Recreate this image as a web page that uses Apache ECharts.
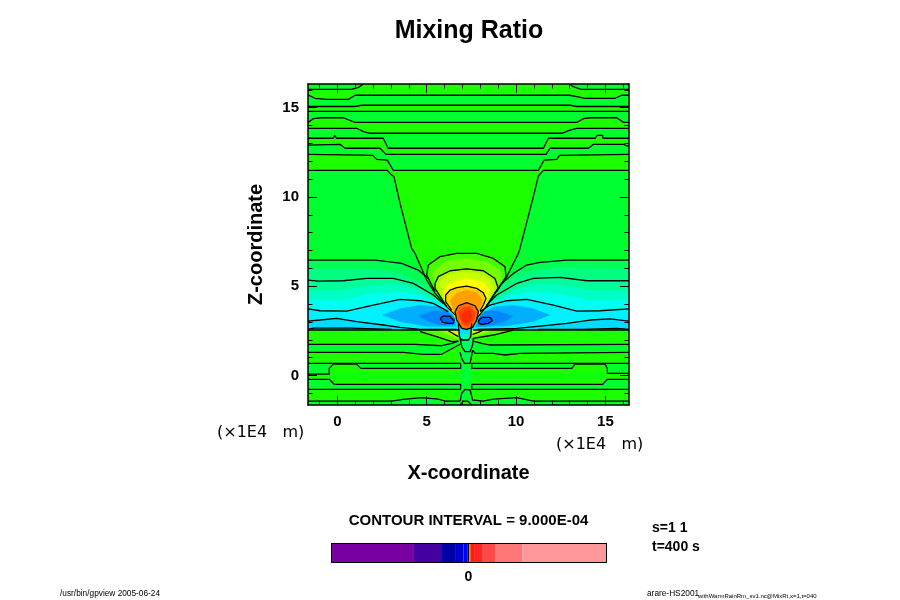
<!DOCTYPE html>
<html>
<head>
<meta charset="utf-8">
<title>Mixing Ratio</title>
<script src="https://cdn.jsdelivr.net/npm/echarts@6/dist/echarts.min.js"></script>
<style>
html, body { margin: 0; padding: 0; background: #fff; }
#mixing_chart { width: 900px; height: 600px; }
</style>
</head>
<body>
<div id="mixing_chart"></div>
<script>
// tick labels and ticks
var major_ticks = [0, 5, 10, 15];
var minor_x_ticks = [-1, 1, 2, 3, 4, 6, 7, 8, 9, 11, 12, 13, 14, 16];
var minor_z_ticks = [-1, 1, 2, 3, 4, 6, 7, 8, 9, 11, 12, 13, 14, 16];

// contour lines, upper part, [x, z] in 1E4 m
var c1_left = [[-1.64,16.03],[0.80,16.03],[1.18,16.14],[1.46,16.33]];
var c1_right = [[12.99,16.33],[13.21,16.18],[13.64,16.03],[16.32,16.03]];
var c2 = [[-1.64,15.72],[-1.25,15.53],[-0.60,15.47],[0.62,15.47],[0.99,15.70],[12.99,15.70],[13.40,15.62],[13.86,15.53],[15.54,15.53],[15.91,15.70],[16.32,15.70]];
var c3 = [[-1.64,15.07],[0.99,15.07],[1.36,15.14],[13.02,15.14],[13.40,15.07],[16.32,15.07]];
var c4 = [[-1.64,14.80],[16.32,14.80]];
var c5 = [[-1.64,14.17],[-1.34,14.39],[-0.88,14.44],[0.34,14.44],[0.99,14.18],[13.40,14.18],[13.77,14.39],[14.14,14.44],[15.63,14.44],[16.01,14.18],[16.32,14.18]];
var c6 = [[-1.64,13.85],[1.08,13.85],[1.46,13.66],[1.83,13.57],[12.56,13.57],[13.02,13.75],[13.40,13.85],[16.32,13.85]];
var c7 = [[-1.64,13.29],[-0.22,13.29],[-0.15,13.45],[-0.04,13.29],[2.57,13.29],[2.85,12.73],[11.53,12.73],[11.81,13.29],[14.42,13.29],[14.55,13.45],[14.85,13.45],[14.85,13.29],[16.32,13.29]];
var c8 = [[-1.64,12.91],[0.15,12.95],[0.43,12.73],[2.39,12.73],[2.72,12.39],[11.68,12.39],[11.90,12.73],[14.05,12.73],[14.33,12.95],[16.01,12.95],[16.32,12.82]];
var c9 = [[-1.64,12.39],[1.36,12.35],[1.98,12.33],[2.20,12.11],[2.80,12.07],[3.13,11.49],[11.25,11.49],[11.57,12.07],[12.28,12.11],[12.43,12.33],[16.32,12.39]];
var c10_left = [[-1.64,11.49],[2.80,11.49],[2.95,11.32],[3.17,11.14],[3.51,9.64],[4.16,7.12],[4.35,6.84],[5.00,5.35],[5.47,4.60],[6.12,3.86],[6.59,3.39]];
var c10_right = [[7.80,3.20],[8.26,3.76],[8.92,4.79],[9.48,5.54],[10.13,6.84],[10.22,7.12],[10.97,10.02],[11.25,11.18],[11.53,11.49],[16.32,11.49]];

// contours of the wings on both sides of the plume
var l1_left = [[-1.64,6.47],[2.11,6.47],[3.60,6.28],[4.53,5.91],[5.09,5.44]];
var l1_right = [[9.20,5.16],[9.85,5.72],[10.60,6.19],[11.34,6.34],[12.84,6.47],[16.32,6.47]];
var l2_left = [[-1.64,5.35],[-1.06,5.29],[0.34,5.31],[1.64,5.44],[3.13,5.44],[4.25,5.16],[5.37,4.51],[5.93,4.04]];
var l2_right = [[8.36,3.95],[8.92,4.51],[10.04,5.16],[10.97,5.44],[12.46,5.50],[13.96,5.31],[16.32,5.31]];
var l3_left = [[-1.64,3.73],[-0.97,3.63],[0.52,3.61],[2.01,3.95],[3.51,4.27],[4.63,4.19],[5.37,4.04],[6.21,3.58]];
var l3_right = [[7.99,3.58],[8.54,3.95],[9.48,4.19],[10.60,4.27],[12.09,3.95],[13.40,3.61],[14.70,3.63],[16.32,3.73]];
var l4_left = [[-1.64,3.05],[-0.97,3.11],[-0.04,3.20],[1.08,3.02],[2.57,2.83],[3.51,2.70],[4.63,2.59],[6.68,2.59]];
var l4_right = [[7.80,2.59],[10.04,2.64],[11.34,2.77],[12.84,2.92],[14.14,3.11],[15.26,3.17],[16.32,3.05]];
var thick_left = [[-1.64,2.55],[6.83,2.55]];
var thick_right = [[7.61,2.55],[16.32,2.55]];
var thin_left = [[-1.64,2.59],[-1.34,2.66],[0.71,2.66],[0.80,2.59],[3.04,2.59]];
var thin_right = [[11.25,2.59],[13.68,2.59],[13.77,2.64],[15.63,2.64],[16.32,2.59]];

// tone edges inside the wings
var w2_left = [[-1.64,6.00],[0.15,6.00],[2.11,5.95],[3.51,5.72],[4.63,5.26],[5.56,4.42]];
var w2_right = [[9.10,4.98],[10.04,5.63],[10.97,5.91],[12.46,6.04],[16.32,6.00]];
var w4_left = [[-1.64,4.79],[0.34,4.79],[2.01,5.07],[3.51,5.13],[4.63,4.79],[5.75,4.14]];
var w4_right = [[8.64,4.14],[9.85,4.79],[10.97,5.13],[12.46,5.07],[14.14,4.79],[16.32,4.79]];
var w5_left = [[-1.64,4.27],[0.15,4.23],[2.01,4.60],[3.51,4.70],[4.63,4.51],[5.93,3.95]];
var w5_right = [[8.45,3.95],[9.66,4.51],[10.78,4.70],[12.28,4.60],[14.14,4.23],[16.32,4.27]];
var lens_outer_left = [[2.48,3.39],[3.51,3.76],[4.63,3.95],[5.75,3.86],[6.49,3.39],[6.68,2.74],[5.00,2.74],[3.51,3.02]];
var lens_outer_right = [[11.90,3.39],[10.97,3.76],[9.85,3.95],[8.73,3.86],[7.99,3.39],[7.71,2.70],[9.48,2.77],[10.97,3.02]];
var lens_inner_left = [[4.53,3.33],[5.37,3.63],[6.12,3.63],[6.59,3.20],[6.49,2.83],[5.75,2.83],[5.09,3.02]];
var lens_inner_right = [[9.85,3.33],[8.92,3.63],[8.26,3.63],[7.89,3.20],[7.89,2.77],[8.73,2.83],[9.38,3.02]];
var loop_left = [[5.75,3.20],[5.90,3.33],[6.31,3.33],[6.53,3.07],[6.49,2.92],[6.21,2.92],[5.90,2.98],[5.75,3.20]];
var loop_right = [[7.89,3.07],[8.08,3.26],[8.54,3.26],[8.68,3.07],[8.45,2.92],[8.08,2.87],[7.93,2.92],[7.89,3.07]];

// plume
var plume_tail = [[8.26,3.76],[7.89,3.30],[7.24,2.74],[6.59,3.30],[6.12,3.86]];
var p1_line = [[5.47,4.70],[5.00,5.63],[5.09,6.19],[5.75,6.66],[6.68,6.84],[7.80,6.84],[8.73,6.56],[9.38,6.10],[9.44,5.54],[8.92,4.70]];
var tone_b = [[5.28,5.63],[5.47,6.00],[6.12,6.43],[7.24,6.56],[8.36,6.38],[9.10,5.91],[9.20,5.44],[8.82,4.70]];
var p2_line = [[6.12,3.86],[5.47,4.88],[5.47,5.16],[5.65,5.54],[6.31,5.87],[7.24,5.97],[8.17,5.87],[8.82,5.44],[9.01,4.88],[8.26,3.76]];
var tone_d = [[5.71,5.16],[6.03,5.57],[6.68,5.76],[7.24,5.78],[7.99,5.72],[8.54,5.35],[8.77,4.88]];
var tone_e = [[5.93,4.60],[6.21,5.16],[7.24,5.44],[8.17,5.26],[8.51,4.79]];
var p3_line = [[6.40,3.67],[6.06,4.14],[6.06,4.51],[6.31,4.79],[6.68,4.92],[7.24,5.01],[7.80,4.88],[8.17,4.64],[8.32,4.32],[8.17,3.95],[7.99,3.63]];
var tone_g = [[6.31,4.23],[6.68,4.64],[7.24,4.79],[7.80,4.66],[8.13,4.23],[7.89,3.39],[7.24,2.74],[6.59,3.39]];
var p4_line = [[6.59,3.58],[6.77,3.91],[7.24,4.08],[7.71,3.91],[7.89,3.58],[7.80,3.11],[7.57,2.70],[7.24,2.59],[6.96,2.64],[6.68,3.11],[6.59,3.58]];
var core_outer = [[6.77,3.58],[7.05,3.86],[7.43,3.86],[7.71,3.58],[7.65,3.11],[7.33,2.77],[7.05,2.83],[6.83,3.20]];
var core_inner = [[6.92,3.39],[7.15,3.63],[7.43,3.63],[7.56,3.39],[7.43,3.02],[7.24,2.87],[7.05,3.02]];
var stem_line = [[6.77,2.92],[6.83,2.18],[6.96,1.99],[7.33,1.99],[7.46,2.18],[7.52,2.92]];
var stem_low = [[6.90,2.30],[7.43,2.30],[7.33,1.99],[6.96,1.99]];

// below the thick line
var l6_left = [[4.63,2.46],[5.56,2.18],[6.40,1.90],[6.77,1.93]];
var l6_right = [[7.61,2.08],[8.73,2.27],[9.85,2.55]];
var l6b_left = [[6.21,2.51],[6.77,2.18]];
var l6b_right = [[7.57,2.30],[7.89,2.42],[8.17,2.55]];
var l7_left = [[-1.64,1.75],[4.35,1.75],[4.44,1.67],[5.84,1.67],[6.40,1.80],[6.77,1.93]];
var l7_right = [[7.61,1.93],[8.08,1.80],[8.54,1.71],[16.32,1.75]];
var l8_left = [[-1.64,1.30],[3.69,1.30],[3.79,1.24],[4.81,1.19],[5.84,1.19],[6.87,1.75]];
var l8_right = [[7.57,1.43],[7.71,1.24],[8.73,1.24],[9.38,1.15],[10.22,1.24],[16.32,1.30]];
var v1 = [[6.87,2.08],[6.96,1.62],[7.15,1.34],[7.43,1.34],[7.57,1.71],[7.61,2.08]];
var v2 = [[6.87,1.30],[6.96,0.96],[7.11,0.68],[7.43,0.68],[7.52,1.15],[7.57,1.43]];
var rect_upper_left = [[-1.64,0.68],[6.90,0.68],[6.90,0.40],[1.31,0.40],[1.08,0.64],[-0.22,0.64],[-0.45,0.40],[-0.45,0.08],[-1.64,0.08]];
var rect_upper_right = [[16.32,0.68],[7.52,0.68],[7.52,0.40],[13.12,0.40],[13.30,0.64],[14.98,0.64],[15.11,0.40],[15.11,0.12],[16.32,0.12]];
var rect_lower_left = [[-1.64,-0.21],[-0.45,-0.21],[-0.17,-0.49],[6.90,-0.49],[6.90,-0.77],[-1.64,-0.77]];
var rect_lower_right = [[16.32,-0.21],[15.11,-0.21],[14.85,-0.49],[7.52,-0.49],[7.52,-0.77],[16.32,-0.77]];
var bottom_line = [[-1.64,-1.43],[3.04,-1.43],[3.69,-1.34],[4.72,-1.24],[5.65,-1.32],[6.03,-1.43],[6.87,-1.43],[6.96,-1.00],[7.15,-0.77],[7.43,-0.81],[7.57,-1.37],[7.57,-1.43],[8.17,-1.43],[8.73,-1.32],[10.04,-1.24],[10.97,-1.43],[16.32,-1.43]];
var bottom_bump = [[6.87,-1.65],[7.05,-1.43],[7.29,-1.43],[7.52,-1.65]];
var center_column = [[6.90,1.30],[7.52,1.30],[7.52,-1.43],[6.90,-1.43]];
var mid_strip = [[-0.45,0.15],[15.11,0.15],[15.11,-0.20],[-0.45,-0.20]];
var wedge_a_left = [[4.63,2.55],[5.56,2.18],[6.40,1.90],[6.77,1.93],[6.83,2.55]];
var wedge_b_left = [[5.60,2.55],[6.77,2.05],[6.83,2.55]];
var wedge_c_left = [[6.21,2.55],[6.77,2.18],[6.83,2.55]];
var wedge_a_right = [[9.85,2.55],[8.73,2.27],[7.61,2.08],[7.52,2.55]];
var wedge_b_right = [[8.73,2.55],[7.57,2.14],[7.52,2.55]];
var wedge_c_right = [[8.17,2.55],[7.57,2.30],[7.52,2.55]];

// colour bar, edges on an arbitrary scale with 0 at the mark
var bar_edges = [-137, -55.3, -27.3, -13.3, -5, -0.7, 0.7, 2, 5.7, 13.7, 27.3, 54.3, 138.3];
var bar_colors = ['#7800a0', '#4400a0', '#0000a8', '#0000d0', '#0000ff', '#000000', '#ff8000', '#ff2000', '#ff2424', '#ff4848', '#ff7878', '#ff9999'];

var X_MIN = -1.64, X_MAX = 16.32, Z_MIN = -1.65, Z_MAX = 16.33;
var TONE_A = '#00ff2e', TONE_B = '#1cff00';
var FONT = '"Liberation Sans", Arial, sans-serif';

function above(line) {
    return line.concat([[X_MAX, Z_MAX], [X_MIN, Z_MAX]]);
}
function above_wing(left, right) {
    return left.concat(right, [[X_MAX, 2.55], [X_MIN, 2.55]]);
}
function poly_series(points, color, axis_index) {
    return {
        type: 'custom',
        xAxisIndex: axis_index || 0,
        yAxisIndex: axis_index || 0,
        silent: true,
        animation: false,
        z: 2,
        data: points,
        renderItem: function (params, api) {
            if (params.dataIndex !== 0) return null;
            return {
                type: 'polygon',
                shape: {points: points.map(function (p) { return api.coord(p); })},
                style: {fill: color}
            };
        }
    };
}
function line_series(points) {
    return {
        type: 'line',
        data: points,
        silent: true,
        animation: false,
        showSymbol: false,
        symbol: 'none',
        z: 3,
        lineStyle: {color: '#000', width: 1.3}
    };
}

function build_fills() {
    var tail = plume_tail;
    var layers = [
        [[[X_MIN,Z_MIN],[X_MAX,Z_MIN],[X_MAX,2.55],[X_MIN,2.55]], TONE_B],
        [l7_left.concat(l8_left.slice().reverse()), TONE_A],
        [l7_right.concat(l8_right.slice().reverse()), TONE_A],
        [rect_upper_left, TONE_A],
        [rect_upper_right, TONE_A],
        [rect_lower_left, TONE_A],
        [rect_lower_right, TONE_A],
        [mid_strip, '#0cff10'],
        [center_column, '#00ff33'],
        [v1, '#00ff66'],
        [v2, '#00ff44'],
        [bottom_line.concat([[X_MAX,Z_MIN],[X_MIN,Z_MIN]]), TONE_A],
        [bottom_bump, TONE_B],
        [wedge_a_left, '#4dff00'],
        [wedge_b_left, '#99ff00'],
        [wedge_c_left, '#d0ff00'],
        [wedge_a_right, '#4dff00'],
        [wedge_b_right, '#99ff00'],
        [wedge_c_right, '#d0ff00'],
        // sides above the thick line, outermost tone first
        [[[X_MIN,2.55],[X_MAX,2.55],[X_MAX,11.49],[X_MIN,11.49]], TONE_A],
        [above_wing(l1_left, l1_right), '#00ff55'],
        [above_wing(w2_left, w2_right), '#00ff80'],
        [above_wing(l2_left, l2_right), '#00ff99'],
        [above_wing(w4_left, w4_right), '#00ffc4'],
        [above_wing(w5_left, w5_right), '#00ffee'],
        [above_wing(l3_left, l3_right), '#00f0ff'],
        [above_wing(l4_left, l4_right), '#00dcff'],
        [lens_outer_left, '#00b0ff'],
        [lens_outer_right, '#00b0ff'],
        [lens_inner_left, '#0088ff'],
        [lens_inner_right, '#0088ff'],
        [loop_left, '#0060ff'],
        [loop_right, '#0060ff'],
        // everything above a contour toggles between the two greens
        [above(c10_left.concat(c10_right)), TONE_B],
        [above(c9), TONE_A],
        [above(c8), TONE_B],
        [above(c7), TONE_A],
        [above(c6), TONE_B],
        [above(c5), TONE_A],
        [above(c4), TONE_B],
        [above(c3), TONE_A],
        [above(c2), TONE_B],
        [c1_left.concat([[X_MIN,Z_MAX]]), TONE_A],
        [c1_right.concat([[X_MAX,Z_MAX]]), TONE_A],
        [stem_line, '#00e0ff'],
        [stem_low, '#00ffb0'],
        [p1_line.concat(tail), '#40ff00'],
        [tone_b.concat(tail), '#73ff00'],
        [p2_line.concat(tail), '#a6ff00'],
        [tone_d.concat(tail), '#ccff00'],
        [tone_e.concat(tail), '#ffff00'],
        [p3_line.concat([[7.24,2.74]]), '#ffd000'],
        [tone_g, '#ffa000'],
        [p4_line, '#ff7000'],
        [core_outer, '#ff4400'],
        [core_inner, '#ff2a00']
    ];
    return layers.map(function (l) { return poly_series(l[0], l[1]); });
}

function build_lines() {
    return [c1_left, c1_right, c2, c3, c4, c5, c6, c7, c8, c9, c10_left, c10_right,
        l1_left, l1_right, l2_left, l2_right, l3_left, l3_right, l4_left, l4_right,
        thick_left, thick_right, thin_left, thin_right,
        loop_left, loop_right, p1_line, p2_line, p3_line, p4_line, stem_line,
        l6_left, l6_right, l6b_left, l6b_right, l7_left, l7_right, l8_left, l8_right, v1, v2,
        rect_upper_left, rect_upper_right, rect_lower_left, rect_lower_right,
        bottom_line, bottom_bump].map(line_series);
}

function build_bar() {
    return bar_colors.map(function (color, i) {
        var lo = bar_edges[i], hi = bar_edges[i + 1];
        return poly_series([[lo, 0], [hi, 0], [hi, 1], [lo, 1]], color, 4);
    });
}

function axis(dim, position, ticks, length, extra) {
    var out = {
        type: 'value',
        gridIndex: 0,
        position: position,
        min: dim == 'x' ? X_MIN : Z_MIN,
        max: dim == 'x' ? X_MAX : Z_MAX,
        z: 5,
        splitLine: {show: false},
        axisLine: {show: length > 5, onZero: false, lineStyle: {color: '#000', width: 1.5}},
        axisTick: {show: true, inside: true, length: length, customValues: ticks, lineStyle: {color: '#000', width: 1}},
        axisLabel: {show: false}
    };
    return Object.assign(out, extra || {});
}

var tick_label = {show: true, customValues: major_ticks, color: '#000', fontFamily: FONT, fontWeight: 'bold', fontSize: 15, margin: 9};
var name_style = {color: '#000', fontFamily: FONT, fontWeight: 'bold', fontSize: 20};

function text_item(text, x, y, size, weight, align, family) {
    return {
        type: 'text',
        x: x,
        y: y,
        silent: true,
        style: {
            text: text,
            fill: '#000',
            font: (weight || 'normal') + ' ' + size + 'px ' + (family || FONT),
            textAlign: align || 'left',
            textVerticalAlign: 'middle'
        }
    };
}

var chart = echarts.init(document.getElementById('mixing_chart'), null, {renderer: 'canvas'});
chart.setOption({
    animation: false,
    backgroundColor: '#fff',
    title: {
        text: 'Mixing Ratio',
        left: 464,
        top: 14,
        textAlign: 'center',
        textStyle: {color: '#000', fontFamily: FONT, fontWeight: 'bold', fontSize: 25}
    },
    grid: [
        {left: 308, top: 84, width: 321, height: 321},
        {left: 331.5, top: 543.5, width: 275, height: 18.5}
    ],
    xAxis: [
        axis('x', 'bottom', major_ticks, 9, {axisLabel: tick_label, name: 'X-coordinate', nameLocation: 'middle', nameGap: 58, nameTextStyle: name_style}),
        axis('x', 'top', major_ticks, 9),
        axis('x', 'bottom', minor_x_ticks, 4.5),
        axis('x', 'top', minor_x_ticks, 4.5),
        {
            type: 'value', gridIndex: 1, position: 'bottom', min: -137, max: 138.3, z: 5,
            splitLine: {show: false},
            axisLine: {show: true, onZero: false, lineStyle: {color: '#000', width: 1}},
            axisTick: {show: false},
            axisLabel: {show: true, customValues: [0], color: '#000', fontFamily: FONT, fontWeight: 'bold', fontSize: 14, margin: 8}
        },
        {
            type: 'value', gridIndex: 1, position: 'top', min: -137, max: 138.3, z: 5,
            splitLine: {show: false},
            axisLine: {show: true, onZero: false, lineStyle: {color: '#000', width: 1}},
            axisTick: {show: false},
            axisLabel: {show: false}
        }
    ],
    yAxis: [
        axis('z', 'left', major_ticks, 9, {axisLabel: tick_label, name: 'Z-coordinate', nameLocation: 'middle', nameGap: 42, nameTextStyle: name_style}),
        axis('z', 'right', major_ticks, 9),
        axis('z', 'left', minor_z_ticks, 4.5),
        axis('z', 'right', minor_z_ticks, 4.5),
        {
            type: 'value', gridIndex: 1, position: 'left', min: 0, max: 1, z: 5,
            splitLine: {show: false},
            axisLine: {show: true, onZero: false, lineStyle: {color: '#000', width: 1}},
            axisTick: {show: false},
            axisLabel: {show: false}
        },
        {
            type: 'value', gridIndex: 1, position: 'right', min: 0, max: 1, z: 5,
            splitLine: {show: false},
            axisLine: {show: true, onZero: false, lineStyle: {color: '#000', width: 1}},
            axisTick: {show: false},
            axisLabel: {show: false}
        }
    ],
    graphic: [
        text_item('(\u00d71E4   m)', 217, 433, 16, 'normal', 'left', '"DejaVu Sans"'),
        text_item('(\u00d71E4   m)', 556, 445, 16, 'normal', 'left', '"DejaVu Sans"'),
        text_item('CONTOUR INTERVAL = 9.000E-04', 468.5, 521, 15, 'bold', 'center'),
        text_item('s=1 1', 652, 528, 14, 'bold'),
        text_item('t=400 s', 652, 547, 14, 'bold'),
        text_item('/usr/bin/gpview 2005-06-24', 60, 594, 8.3),
        text_item('arare-HS2001', 647, 594, 8.3),
        text_item('withWarmRainRm_sv1.nc@MixRt,x=1,t=040', 698, 596, 6)
    ],
    series: build_fills().concat(build_bar(), build_lines())
});
</script>
</body>
</html>
